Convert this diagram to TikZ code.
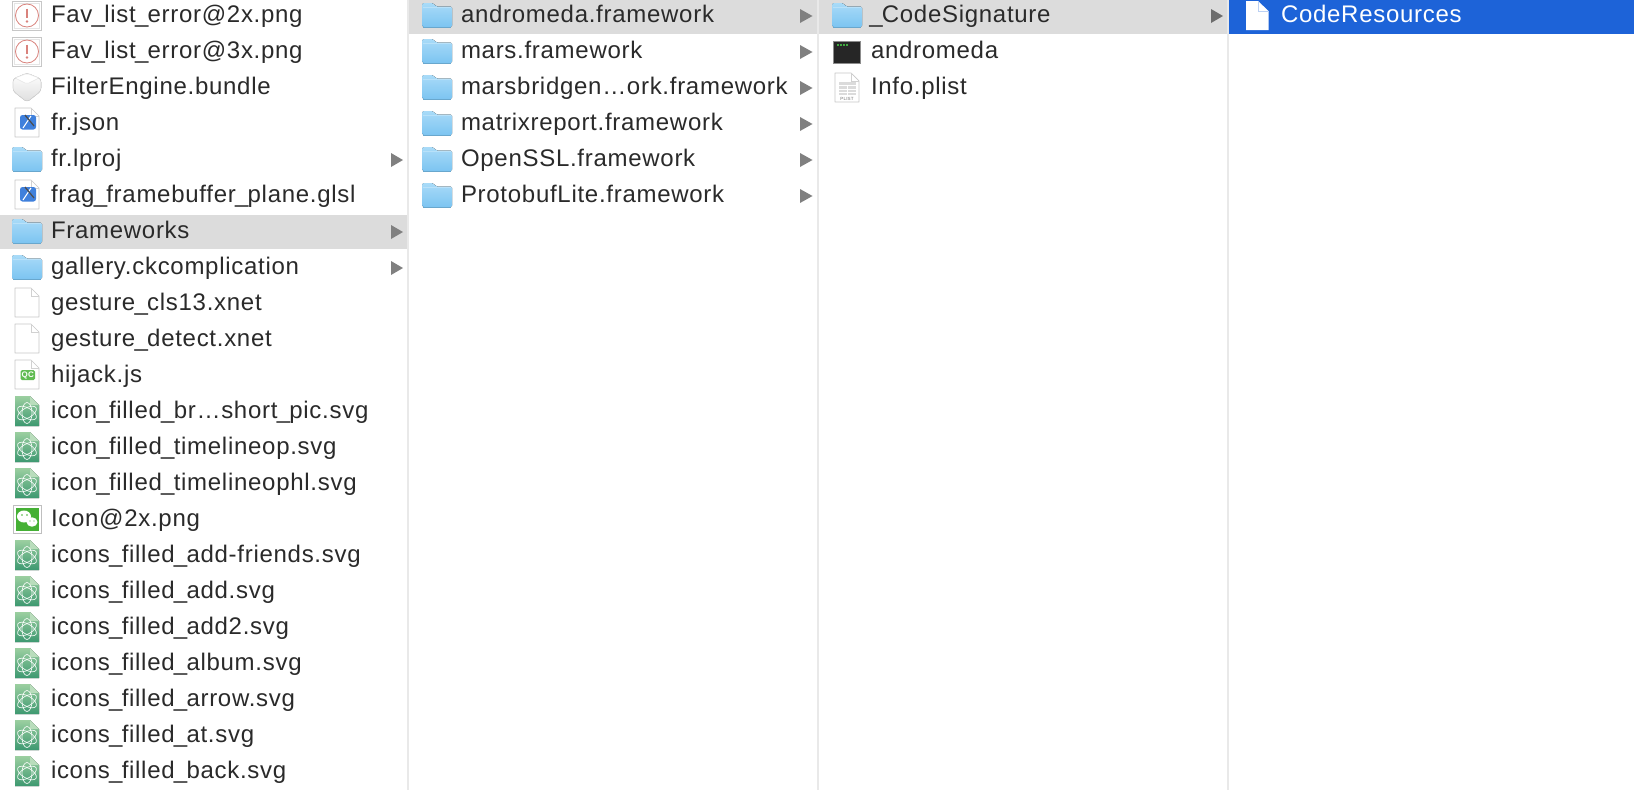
\documentclass[tikz,border=0pt]{standalone}
\usepackage{fontspec}
\setmainfont[LetterSpace=3.0,Ligatures=NoCommon]{Liberation Sans}
\newcommand{\usc}{\kern-.75pt\_\kern-.75pt}
\definecolor{txt}{HTML}{2A2A2A}
\definecolor{hl}{HTML}{DCDCDC}
\definecolor{sel}{HTML}{1D63D8}
\definecolor{tri}{HTML}{808080}
\definecolor{sep}{HTML}{E9E9E9}
\definecolor{foldtop}{HTML}{A9DBF8}
\definecolor{foldbot}{HTML}{7CC4F1}
\definecolor{atomtop}{HTML}{9BCFA0}
\definecolor{atombot}{HTML}{3D9870}
\definecolor{errred}{HTML}{D9827C}
\definecolor{wxgreen}{HTML}{45B035}
\definecolor{xblue}{HTML}{3F80DC}
\tikzset{
  x=1pt,y=-1pt,
  label/.style={anchor=base west,inner sep=0pt,outer sep=0pt,text=txt,font=\fontsize{24}{26}\selectfont},
  docshape/.style={fill=white,draw=black!22,line width=.7pt,line join=round},
  iconfolder/.pic={
    \fill[top color=foldtop,bottom color=foldbot,rounded corners=1.5pt] (-15,-13) -- (-4,-13) -- (-1,-9.5) -- (15,-9.5) -- (15,11) -- (-15,11) -- cycle;
    \draw[foldbot!85!black,line width=.5pt] (-14,11) -- (14,11);
    \fill[white,opacity=.25] (-14.5,-9) rectangle (14.5,-8.2);
  },
  icondoc/.pic={
    \draw[docshape] (-12,-16) -- (4,-16) -- (12,-8) -- (12,13) -- (-12,13) -- cycle;
    \draw[black!18,line width=.6pt] (4,-16) -- (4,-8) -- (12,-8);
  },
  iconerror/.pic={
    \fill[white,draw=black!22,line width=.8pt] (-14.5,-14.5) rectangle (14.5,14.5);
    \draw[black!10,line width=.5pt] (-12.5,-12.5) rectangle (12.5,12.5);
    \draw[fill=white,draw=errred,line width=.8pt] (0,0) circle (11.5);
    \draw[errred,line width=1.9pt] (0,-7) -- (0,2);
    \fill[errred] (0,6) circle (1.3);
  },
  iconatom/.pic={
    \fill[top color=atomtop,bottom color=atombot] (-12,-16) -- (3,-16) -- (12,-7) -- (12,14) -- (-12,14) -- cycle;
    \fill[atomtop!70!white] (3,-16) -- (3,-7) -- (12,-7) -- cycle;
    \begin{scope}[shift={(0,1)}]
      \foreach \a in {30,90,150}
        \draw[white,opacity=.9,line width=.7pt,rotate=\a] (0,0) ellipse [x radius=10.5pt,y radius=5pt];
    \end{scope}
  },
}
\begin{document}
\begin{tikzpicture}
\useasboundingbox (0,0) rectangle (1634,790);
\fill[white] (0,0) rectangle (1634,790);
% highlights
\fill[hl] (0,215) rectangle (407,249);
\fill[hl] (409,0) rectangle (817,33.5);
\fill[hl] (819,0) rectangle (1227,33.5);
\fill[sel] (1229,0) rectangle (1634,33.5);
% separators
\foreach \x in {408,818,1228} \fill[sep] (\x-1,0) rectangle (\x+1,790);
% column 1 icons
\foreach \r in {0,1} \pic at (27,15.5+36*\r) {iconerror};
% bundle
\fill[top color=white,bottom color=black!13,draw=black!16,line width=.6pt,line join=round,rounded corners=3pt]
  (13,79) -- (27,73) -- (41,79) -- (41,91) -- (27,102) -- (13,91) -- cycle;
\fill[white,draw=black!10,line width=.5pt,rounded corners=2pt] (15,78) -- (27,73.5) -- (39,78) -- (27,84) -- cycle;
% docs with Xcode badge
\foreach \r in {3,5} {
  \pic at (27,16+36*\r) {icondoc};
  \fill[rounded corners=2.5pt,fill=xblue] (20,7+36*\r) rectangle (36,21.5+36*\r);
  \draw[white,line width=1.1pt] (23,20+36*\r) -- (31,8+36*\r);
  \draw[black!70,line width=1.2pt] (25,7+36*\r) -- (34,18+36*\r);
}
\foreach \r in {4,6,7} \pic at (27,16+36*\r) {iconfolder};
\foreach \r in {8,9} \pic at (27,16+36*\r) {icondoc};
\pic at (27,16+36*10) {icondoc};
\fill[rounded corners=1.5pt,fill=wxgreen!85] (20.5,370) rectangle (35,380);
\node[inner sep=0pt,text=white,font=\fontsize{8}{8}\selectfont\bfseries] (qcbadge) at (27.7,375) {QC};
\foreach \r in {11,12,13,15,16,17,18,19,20,21} \pic at (27,16+36*\r) {iconatom};
% wechat
\fill[white,draw=black!25,line width=.7pt] (13,505) rectangle (41,533);
\fill[wxgreen] (15.5,507.5) rectangle (38.5,530.5);
\fill[white] (24,516.5) ellipse [x radius=7pt,y radius=6pt];
\fill[white] (32,522) ellipse [x radius=5.5pt,y radius=4.7pt];
\fill[wxgreen] (22,515) circle (.9) (27,515) circle (.9) (30,521) circle (.7) (34,521) circle (.7);
% column 2 and 3 folders
\foreach \r in {0,...,5} \pic at (437,16+36*\r) {iconfolder};
\pic at (847,16) {iconfolder};
% terminal
\fill[black!85,draw=black!45,line width=.7pt] (833.5,41) rectangle (860.5,63);
\foreach \d in {0,1,2,3} \fill[green!55!black!75] (837+\d*3,44) rectangle (838.8+\d*3,46);
% plist
\pic at (847,89) {icondoc};
\fill[black!14] (838.5,82) rectangle (856,95);
\draw[white,line width=.5pt] (838.5,85.5) -- (856,85.5) (838.5,89) -- (856,89) (838.5,92.5) -- (856,92.5) (847.5,85) -- (847.5,95);
\node[inner sep=0pt,text=black!55,font=\fontsize{4.5}{5}\selectfont] (plistbadge) at (847,98.5) {PLIST};
% selected doc
\fill[white,line join=round] (1246,1) -- (1258,1) -- (1268.5,11) -- (1268.5,30) -- (1246,30) -- cycle;
\draw[sel!30,line width=.4pt] (1258,1) -- (1258,11) -- (1268.5,11);
% triangles
\foreach \r in {4,6,7} \fill[tri] (391,16+36*\r-7) -- (403,16+36*\r) -- (391,16+36*\r+7) -- cycle;
\foreach \r in {0,...,5} \fill[tri] (800,16+36*\r-7) -- (812.5,16+36*\r) -- (800,16+36*\r+7) -- cycle;
\fill[tri!85!black] (1211,9) -- (1223,16) -- (1211,23) -- cycle;
% labels column 1
\node[label] (a0) at (51,22.5) {Fav\usc list\usc error@2x.png};
\node[label] (a1) at (51,58.5) {Fav\usc list\usc error@3x.png};
\node[label] (a2) at (51,94.5) {FilterEngine.bundle};
\node[label] (a3) at (51,130.5) {fr.json};
\node[label] (a4) at (51,166.5) {fr.lproj};
\node[label] (a5) at (51,202.5) {frag\usc framebuffer\usc plane.glsl};
\node[label] (a6) at (51,238.5) {Frameworks};
\node[label] (a7) at (51,274.5) {gallery.ckcomplication};
\node[label] (a8) at (51,310.5) {gesture\usc cls13.xnet};
\node[label] (a9) at (51,346.5) {gesture\usc detect.xnet};
\node[label] (a10) at (51,382.5) {hijack.js};
\node[label] (a11) at (51,418.5) {icon\usc filled\usc br…short\usc pic.svg};
\node[label] (a12) at (51,454.5) {icon\usc filled\usc timelineop.svg};
\node[label] (a13) at (51,490.5) {icon\usc filled\usc timelineophl.svg};
\node[label] (a14) at (51,526.5) {Icon@2x.png};
\node[label] (a15) at (51,562.5) {icons\usc filled\usc add-friends.svg};
\node[label] (a16) at (51,598.5) {icons\usc filled\usc add.svg};
\node[label] (a17) at (51,634.5) {icons\usc filled\usc add2.svg};
\node[label] (a18) at (51,670.5) {icons\usc filled\usc album.svg};
\node[label] (a19) at (51,706.5) {icons\usc filled\usc arrow.svg};
\node[label] (a20) at (51,742.5) {icons\usc filled\usc at.svg};
\node[label] (a21) at (51,778.5) {icons\usc filled\usc back.svg};
% labels column 2
\node[label] (b0) at (461,22.5) {andromeda.framework};
\node[label] (b1) at (461,58.5) {mars.framework};
\node[label] (b2) at (461,94.5) {marsbridgen…ork.framework};
\node[label] (b3) at (461,130.5) {matrixreport.framework};
\node[label] (b4) at (461,166.5) {OpenSSL.framework};
\node[label] (b5) at (461,202.5) {ProtobufLite.framework};
% labels column 3
\node[label] (c0) at (870,22.5) {\usc CodeSignature};
\node[label] (c1) at (871,58.5) {andromeda};
\node[label] (c2) at (871,94.5) {Info.plist};
% label column 4
\node[label,text=white] (d0) at (1281,22.5) {CodeResources};
\end{tikzpicture}
\end{document}
